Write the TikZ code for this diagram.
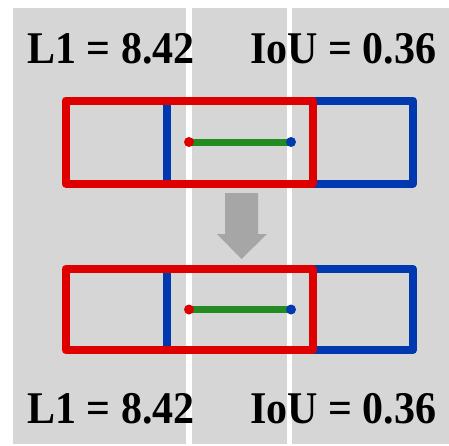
\documentclass[tikz,border=0pt]{standalone}
\usepackage{fontspec}
\setmainfont{Liberation Serif}
\definecolor{rd}{RGB}{222,0,0}
\definecolor{bl}{RGB}{0,56,176}
\definecolor{gn}{RGB}{34,140,34}
\definecolor{bg}{RGB}{214,214,214}
\definecolor{ar}{RGB}{166,166,166}
\newcommand{\scoretext}[1]{\scalebox{1}[1.08]{#1}}
\begin{document}
\begin{tikzpicture}[x=1pt,y=-1pt,
  redbox/.style={draw=rd,line width=8pt,line join=round},
  bluebox/.style={draw=bl,line width=8pt,line join=round},
  gline/.style={draw=gn,line width=7pt},
  score/.style={font=\fontsize{42}{48}\selectfont\bfseries,inner sep=0pt,anchor=base west},
  panel/.style={fill=bg}]
\useasboundingbox (0,0) rectangle (449,445);
% grey panels separated by white gaps
\fill[panel] (13,8) rectangle (186,444);
\fill[panel] (192,8) rectangle (287,444);
\fill[panel] (292,8) rectangle (449,444);
% scores
\node[score] (l1top) at (27,63) {\scoretext{L1 = 8.42}};
\node[score] (ioutop) at (250,63) {\scoretext{IoU = 0.36}};
\node[score] (l1bot) at (27,423) {\scoretext{L1 = 8.42}};
\node[score] (ioubot) at (250,423) {\scoretext{IoU = 0.36}};
% two pairs of boxes with the segment joining their edges
\foreach \yt/\yb/\yc in {100.5/183.5/142, 269/350/309.5}{
  \draw[bluebox] (167,\yt) rectangle (413,\yb);
  \draw[redbox] (65.5,\yt) rectangle (312.5,\yb);
  \draw[gline] (189,\yc) -- (291,\yc);
  \fill[rd] (189,\yc) circle (5);
  \fill[bl] (291,\yc) circle (5);
}
% downward arrow
\fill[ar] (225,193) -- (258,193) -- (258,234) -- (267,234) -- (241.5,259) -- (217,234) -- (225,234) -- cycle;
\end{tikzpicture}
\end{document}
